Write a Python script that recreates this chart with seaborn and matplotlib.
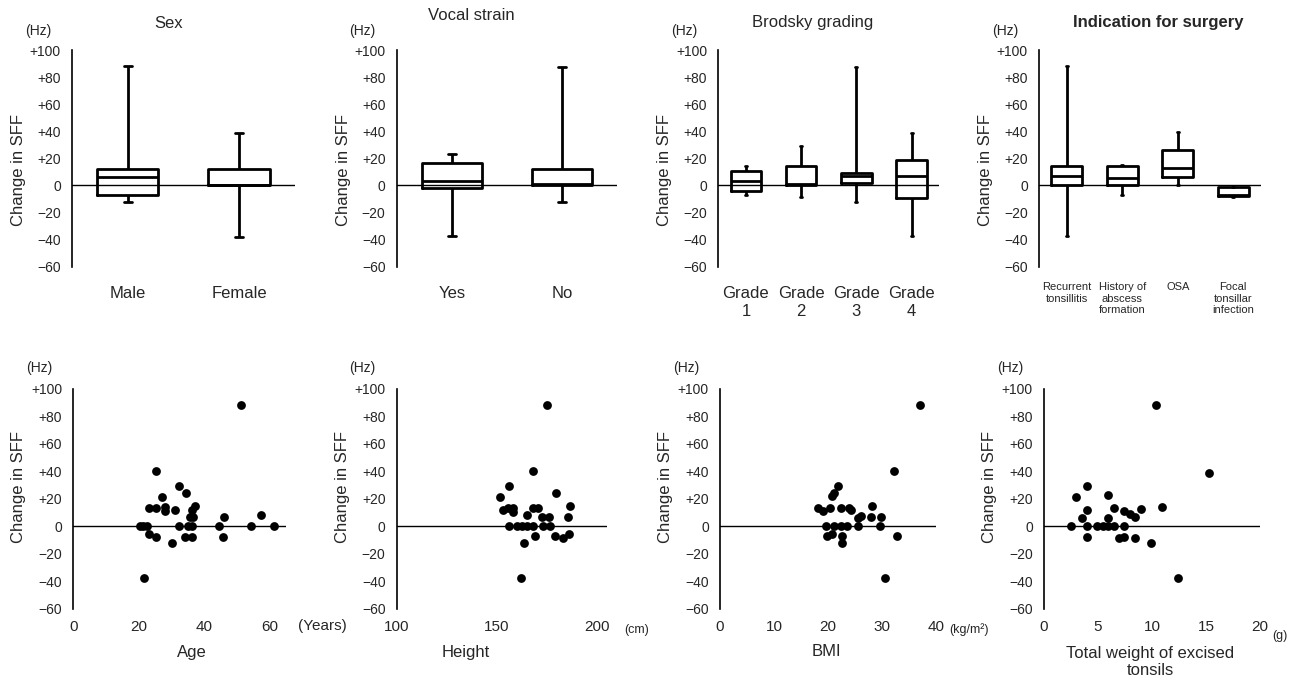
import pandas as pd
import matplotlib
matplotlib.use("Agg")
import matplotlib.pyplot as plt
import seaborn as sns

# box panels: five-number summaries (min, Q1, median, Q3, max)
sex_cats = ["Male", "Female"]
sex_min = [-12.5, -38]
sex_q1 = [-7, 0]
sex_med = [6, 0.2]
sex_q3 = [12.5, 12.5]
sex_max = [88, 39]

strain_cats = ["Yes", "No"]
strain_min = [-37.5, -12.5]
strain_q1 = [-2, 0.5]
strain_med = [3, 1]
strain_q3 = [16.5, 12.5]
strain_max = [23, 87.5]

brodsky_cats = ["Grade\n1", "Grade\n2", "Grade\n3", "Grade\n4"]
brodsky_min = [-7, -8.5, -12.5, -37.5]
brodsky_q1 = [-4, 0.5, 2, -9.5]
brodsky_med = [3, 1, 7, 7]
brodsky_q3 = [11, 14, 9.5, 19]
brodsky_max = [14.5, 29, 87.5, 39]

indic_cats = ["Recurrent\ntonsillitis", "History of\nabscess\nformation", "OSA",
              "Focal\ntonsillar\ninfection"]
indic_min = [-37.5, -7, 0, -8.5]
indic_q1 = [0, 0, 6, -7.5]
indic_med = [7, 5.5, 13, -7]
indic_q3 = [14, 14, 26, -1]
indic_max = [88, 15, 39.5, -1]

# scatter panels
age = [51.4, 25.2, 32.3, 34.3, 27.2, 23.1, 25.2, 28.0, 28.0, 31.1, 37.2, 36.2, 35.7, 36.6,
       46.2, 57.3, 20.4, 21.4, 22.4, 32.3, 35.2, 36.4, 44.5, 54.3, 61.3,
       23.1, 25.2, 34.2, 36.4, 45.6, 30.2, 21.6]
age_sff = [88, 40, 29, 24, 21.5, 13, 13.5, 14, 11, 12, 14.5, 12, 7, 7,
           6.5, 8, 0, 0, 0, 0, 0, 0, 0, 0, 0,
           -6, -7.5, -7.5, -8, -7.5, -12.5, -37.5]

height = [175.3, 168.3, 156.0, 151.5, 179.8, 153.2, 155.7, 158.1, 158.1, 165.3, 168.0, 170.7,
          172.8, 176.3, 186.7, 185.7, 156.0, 160.0, 162.5, 165.0, 168.0, 173.3, 176.7,
          169.0, 163.5, 179.2, 183.3, 186.3, 162.0]
height_sff = [88, 40, 29, 21.5, 24, 12, 13.5, 13.5, 10.5, 8, 13.5, 13, 6.5, 7, 14.5, 6.5,
              0, 0, 0, 0, 0, 0, 0, -7, -12.5, -7, -8.5, -6, -37.5]

bmi = [37.1, 32.2, 21.8, 20.7, 21.1, 18.1, 19.0, 20.4, 22.4, 23.9, 24.3, 26.2, 25.5, 28.2,
       28.0, 29.9, 19.6, 21.1, 22.4, 23.6, 25.6, 29.7, 19.9, 20.7, 22.6, 22.6, 32.8, 30.5]
bmi_sff = [88, 40, 29, 22, 24.5, 13.5, 11, 13, 13, 13, 11.5, 7.5, 6, 14.5,
           6.5, 7, 0, 0, 0, 0, 0, 0, -7, -6, -7, -12.5, -7, -37.5]

weight = [10.4, 15.3, 4.0, 3.0, 5.95, 4.0, 3.5, 6.5, 5.95, 7.45, 8.0, 8.45, 8.95, 10.9,
          2.5, 4.0, 4.9, 5.45, 5.95, 6.5, 7.45, 4.0, 6.9, 7.45, 8.45, 9.9, 12.4]
weight_sff = [88, 39, 29, 21, 23, 12, 6, 13.5, 6, 11, 9, 7, 12.5, 14,
              0, 0, 0, 0, 0, 0, 0, -7.5, -8.5, -7.5, -8.5, -12.5, -38]

yticks = [-60, -40, -20, 0, 20, 40, 60, 80, 100]
ylabels = [("+%d" % v if v > 0 else ("0" if v == 0 else "\u2212%d" % -v)) for v in yticks]

sns.set_style("white")
plt.rcParams["font.family"] = ["Liberation Sans", "DejaVu Sans"]

W, H = 1299, 683
fig = plt.figure(figsize=(W / 100, H / 100), dpi=100)


def add_ax(l, t, r, b):
    return fig.add_axes([l / W, 1 - b / H, (r - l) / W, (b - t) / H])


def ftext(x, y, s, **kw):
    fig.text(x / W, 1 - y / H, s, ha="center", va="center", **kw)


def style_ax(ax):
    for side in ["top", "right", "bottom"]:
        ax.spines[side].set_visible(False)
    ax.spines["left"].set_color("black")
    ax.spines["left"].set_linewidth(1.2)
    ax.axhline(0, color="black", lw=1, zorder=1)
    ax.set_ylim(-60, 100)
    ax.set_yticks(yticks)
    ax.set_yticklabels(ylabels, fontsize=10)
    ax.tick_params(axis="both", length=0)
    ax.tick_params(axis="y", pad=8)
    ax.set_xlabel("")
    ax.set_ylabel("")


def box_panel(rect, cats, mins, q1s, meds, q3s, maxs, fs, pad):
    rows = []
    for c, a, b, m, d, e in zip(cats, mins, q1s, meds, q3s, maxs):
        for v in (a, b, m, d, e):
            rows.append({"group": c, "value": v})
    df = pd.DataFrame(rows)
    ax = add_ax(*rect)
    cap = 0.14 / len(cats)
    sns.boxplot(data=df, x="group", y="value", order=cats, whis=(0, 100), fill=False,
                color="black", linewidth=2, width=0.55, capwidths=cap, ax=ax)
    style_ax(ax)
    ax.set_xlim(-0.5, len(cats) - 0.5)
    ax.set_xticks(range(len(cats)))
    ax.set_xticklabels(cats, fontsize=fs)
    ax.tick_params(axis="x", pad=pad)
    return ax


def scatter_panel(rect, x, y, xlim, xticks):
    ax = add_ax(*rect)
    sns.scatterplot(x=x, y=y, color="black", s=40, edgecolor="black", linewidth=0,
                    zorder=3, ax=ax)
    style_ax(ax)
    ax.set_xlim(*xlim)
    ax.set_xticks(xticks)
    ax.set_xticklabels([str(t) for t in xticks], fontsize=11)
    ax.tick_params(axis="x", pad=8)
    return ax


top = [(72, 50, 294.7, 266.7), (396.7, 50, 617.3, 266.7),
       (718.3, 50, 939.3, 266.7), (1039, 50, 1261, 266.7)]
bot = [(73.3, 388.7, 286, 608.7), (396.7, 388.7, 606.7, 608.7),
       (720, 388.7, 936, 608.7), (1044, 388.7, 1260, 608.7)]

box_panel(top[0], sex_cats, sex_min, sex_q1, sex_med, sex_q3, sex_max, 12, 14)
box_panel(top[1], strain_cats, strain_min, strain_q1, strain_med, strain_q3, strain_max, 12, 14)
box_panel(top[2], brodsky_cats, brodsky_min, brodsky_q1, brodsky_med, brodsky_q3,
          brodsky_max, 12, 14)
box_panel(top[3], indic_cats, indic_min, indic_q1, indic_med, indic_q3, indic_max, 8, 11)

scatter_panel(bot[0], age, age_sff, (0, 65), [0, 20, 40, 60])
scatter_panel(bot[1], height, height_sff, (100, 205), [100, 150, 200])
scatter_panel(bot[2], bmi, bmi_sff, (0, 40), [0, 10, 20, 30, 40])
scatter_panel(bot[3], weight, weight_sff, (0, 20), [0, 5, 10, 15, 20])

# titles
ftext(169, 23, "Sex", fontsize=12)
ftext(471.7, 16, "Vocal strain", fontsize=12)
ftext(813, 23, "Brodsky grading", fontsize=12)
ftext(1158, 23, "Indication for surgery", fontsize=12, fontweight="bold")

# y labels and units
for rect in top:
    ftext(rect[0] - 34, 31, "(Hz)", fontsize=10)
    ftext(rect[0] - 53.5, 170, "Change in SFF", fontsize=12, rotation=90)
for rect in bot:
    ftext(rect[0] - 34, 368, "(Hz)", fontsize=10)
    ftext(rect[0] - 54.5, 487, "Change in SFF", fontsize=12, rotation=90)

# x labels and units
ftext(191.7, 652, "Age", fontsize=12)
ftext(466, 652, "Height", fontsize=12)
ftext(826.7, 652, "BMI", fontsize=12)
ftext(1150, 662, "Total weight of excised\ntonsils", fontsize=12)
ftext(322.5, 626, "(Years)", fontsize=11)
ftext(637, 630, "(cm)", fontsize=9)
ftext(969, 630, "(kg/m\u00b2)", fontsize=9)
ftext(1280, 636, "(g)", fontsize=9)

fig.savefig("out.png", dpi=100, facecolor="white")
